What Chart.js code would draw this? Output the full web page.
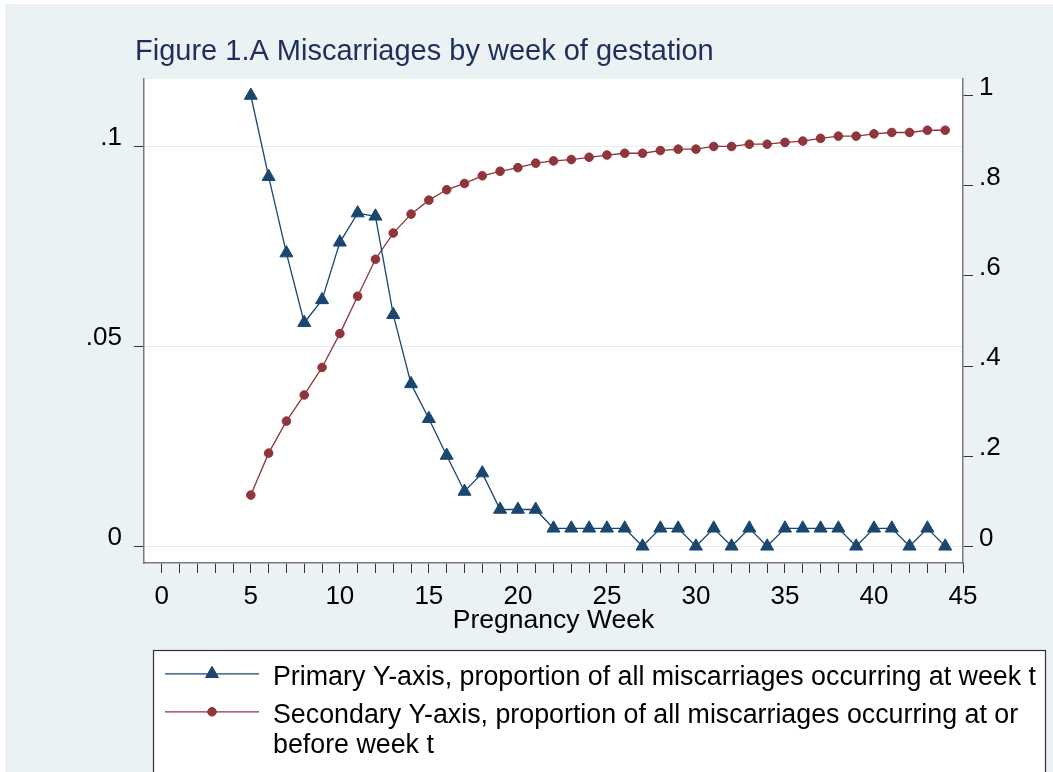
<!DOCTYPE html>
<html>
<head>
<meta charset="utf-8">
<title>Figure 1.A Miscarriages by week of gestation</title>
<script src="https://cdn.jsdelivr.net/npm/chart.js@4.4.1/dist/chart.umd.min.js"></script>
<style>
  html, body { margin: 0; padding: 0; background: #fff; }
  #wrap { width: 1053px; height: 772px; }
  canvas { display: block; }
</style>
</head>
<body>
<div id="wrap"><canvas id="chart" width="1053" height="772"></canvas></div>
<script>
// ---- Data ----
const weeks = [5, 6, 7, 8, 9, 10, 11, 12, 13, 14, 15, 16, 17, 18, 19, 20, 21, 22, 23, 24,
               25, 26, 27, 28, 29, 30, 31, 32, 33, 34, 35, 36, 37, 38, 39, 40, 41, 42, 43, 44];

// proportion of all miscarriages occurring at week t (left axis)
const shareAtWeek = [0.1127, 0.0924, 0.0733, 0.0559, 0.0616, 0.0760, 0.0833, 0.0825, 0.0579, 0.0406,
                     0.0319, 0.0227, 0.0137, 0.0183, 0.0092, 0.0092, 0.0092, 0.0045, 0.0045, 0.0045,
                     0.0045, 0.0045, 0, 0.0045, 0.0045, 0, 0.0045, 0, 0.0045, 0,
                     0.0045, 0.0045, 0.0045, 0.0045, 0, 0.0045, 0.0045, 0, 0.0045, 0];

// proportion occurring at or before week t (right axis)
const shareByWeek = [0.114, 0.207, 0.278, 0.336, 0.397, 0.472, 0.555, 0.637, 0.695, 0.737,
                     0.768, 0.791, 0.805, 0.822, 0.832, 0.840, 0.850, 0.855, 0.858, 0.863,
                     0.868, 0.872, 0.872, 0.878, 0.881, 0.881, 0.887, 0.887, 0.892, 0.892,
                     0.896, 0.899, 0.905, 0.910, 0.910, 0.915, 0.918, 0.918, 0.923, 0.923];

const leftTicks = [0, 0.05, 0.1];
const leftTickLabels = ['0', '.05', '.1'];
const rightTicks = [0, 0.2, 0.4, 0.6, 0.8, 1];
const rightTickLabels = ['0', '.2', '.4', '.6', '.8', '1'];
const xTickLabels = ['0', '5', '10', '15', '20', '25', '30', '35', '40', '45'];

const titleText = 'Figure 1.A Miscarriages by week of gestation';
const xTitle = 'Pregnancy Week';
const seriesLabels = [
  'Primary Y-axis, proportion of all miscarriages occurring at week t',
  'Secondary Y-axis, proportion of all miscarriages occurring at or before week t'
];

// ---- Look ----
const NAVY   = '#1a476f';
const MAROON = '#90353b';
const BG     = '#eaf2f3';
const FONT   = "'Liberation Sans', Arial, sans-serif";
const AXIS   = '#7a7a7a';
const TICK   = '#333';

// ---- Background, title and boxed legend ----
function wrapText(ctx, text, maxWidth) {
  const words = text.split(' ');
  const lines = [];
  let line = '';
  words.forEach(w => {
    const test = line ? line + ' ' + w : w;
    if (ctx.measureText(test).width > maxWidth && line) {
      lines.push(line);
      line = w;
    } else {
      line = test;
    }
  });
  if (line) lines.push(line);
  return lines;
}

const figureDecor = {
  id: 'figureDecor',
  beforeDraw(chart) {
    const { ctx, chartArea: a } = chart;
    ctx.save();
    ctx.fillStyle = '#fff';
    ctx.fillRect(0, 0, chart.width, chart.height);
    ctx.fillStyle = BG;
    ctx.fillRect(5, 4, chart.width - 5, chart.height - 4);
    ctx.fillStyle = '#fff';
    ctx.fillRect(a.left, a.top, a.right - a.left, a.bottom - a.top);
    ctx.restore();
  },
  afterDraw(chart) {
    const ctx = chart.ctx;
    ctx.save();

    // title
    ctx.font = '29px ' + FONT;
    ctx.fillStyle = '#1e2f5b';
    ctx.textAlign = 'left';
    ctx.textBaseline = 'alphabetic';
    ctx.fillText(titleText, 135, 59.5);

    // legend box (runs off the bottom edge like the original)
    ctx.fillStyle = '#fff';
    ctx.fillRect(153.5, 650.5, 892, 140);
    ctx.strokeStyle = '#333';
    ctx.lineWidth = 1.2;
    ctx.strokeRect(153.5, 650.5, 892, 140);

    ctx.font = '26.8px ' + FONT;
    let base = 685.3;
    chart.data.datasets.forEach(ds => {
      const lineY = base - 11.5;
      ctx.strokeStyle = ds.borderColor;
      ctx.lineWidth = 1.3;
      ctx.beginPath();
      ctx.moveTo(165, lineY);
      ctx.lineTo(259, lineY);
      ctx.stroke();

      ctx.fillStyle = ds.backgroundColor;
      ctx.lineWidth = 1;
      Chart.helpers.drawPoint(ctx, {
        pointStyle: ds.pointStyle, radius: ds.pointRadius, rotation: 0, borderWidth: 1
      }, 212, lineY);

      ctx.fillStyle = '#000';
      const lines = wrapText(ctx, ds.label, 775);
      lines.forEach((ln, i) => ctx.fillText(ln, 273, base + i * 30));
      base += (lines.length - 1) * 30 + 38;
    });

    ctx.restore();
  }
};

// ---- Chart ----
const toPoints = vals => weeks.map((w, i) => ({ x: w, y: vals[i] }));

new Chart(document.getElementById('chart'), {
  type: 'line',
  data: {
    datasets: [
      {
        label: seriesLabels[0],
        data: toPoints(shareAtWeek),
        yAxisID: 'y',
        borderColor: NAVY,
        backgroundColor: NAVY,
        borderWidth: 1.3,
        pointStyle: 'triangle',
        pointRadius: 7.5,
        pointBorderWidth: 1,
        pointHoverRadius: 7.5,
        tension: 0
      },
      {
        label: seriesLabels[1],
        data: toPoints(shareByWeek),
        yAxisID: 'y2',
        borderColor: MAROON,
        backgroundColor: MAROON,
        borderWidth: 1.3,
        pointStyle: 'circle',
        pointRadius: 4.3,
        pointBorderWidth: 1,
        pointHoverRadius: 4.3,
        tension: 0
      }
    ]
  },
  options: {
    responsive: false,
    animation: false,
    events: [],
    layout: { padding: { top: 79, left: 0, right: 0, bottom: 132 } },
    plugins: {
      legend: { display: false },
      tooltip: { enabled: false },
      title: { display: false }
    },
    scales: {
      x: {
        type: 'linear',
        min: -1,
        max: 45,
        afterFit: s => { s.height = 77; },
        afterBuildTicks: s => { s.ticks = s.ticks.filter(t => t.value >= 0); },
        border: { display: true, color: AXIS, width: 1.5 },
        grid: { drawOnChartArea: false, tickLength: 10, tickColor: TICK, tickWidth: 1 },
        ticks: {
          stepSize: 1,
          maxTicksLimit: 100,
          autoSkip: false,
          maxRotation: 0,
          minRotation: 0,
          padding: 8,
          color: '#000',
          font: { family: FONT, size: 26 },
          callback: v => xTickLabels.includes(String(v)) ? String(v) : ''
        },
        title: {
          display: true,
          text: xTitle,
          color: '#000',
          font: { family: FONT, size: 26.5 },
          padding: { top: 0, bottom: 3 }
        }
      },
      y: {
        position: 'left',
        min: -0.004175,
        max: 0.116825,
        afterFit: s => { s.width = 144; },
        afterBuildTicks: s => { s.ticks = leftTicks.map(v => ({ value: v })); },
        border: { display: true, color: AXIS, width: 1.5 },
        grid: { color: '#e3ecef', lineWidth: 1, tickLength: 10, tickColor: TICK, tickWidth: 1 },
        ticks: {
          padding: 12,
          labelOffset: -8,
          color: '#000',
          font: { family: FONT, size: 26 },
          callback: (v, i) => leftTickLabels[i]
        }
      },
      y2: {
        position: 'right',
        min: -0.0366,
        max: 1.0366,
        afterFit: s => { s.width = 90; },
        afterBuildTicks: s => { s.ticks = rightTicks.map(v => ({ value: v })); },
        border: { display: true, color: AXIS, width: 1.5 },
        grid: { drawOnChartArea: false, tickLength: 10, tickColor: TICK, tickWidth: 1 },
        ticks: {
          padding: 6,
          labelOffset: -8,
          color: '#000',
          font: { family: FONT, size: 26 },
          callback: (v, i) => rightTickLabels[i]
        }
      }
    }
  },
  plugins: [figureDecor]
});
</script>
</body>
</html>
